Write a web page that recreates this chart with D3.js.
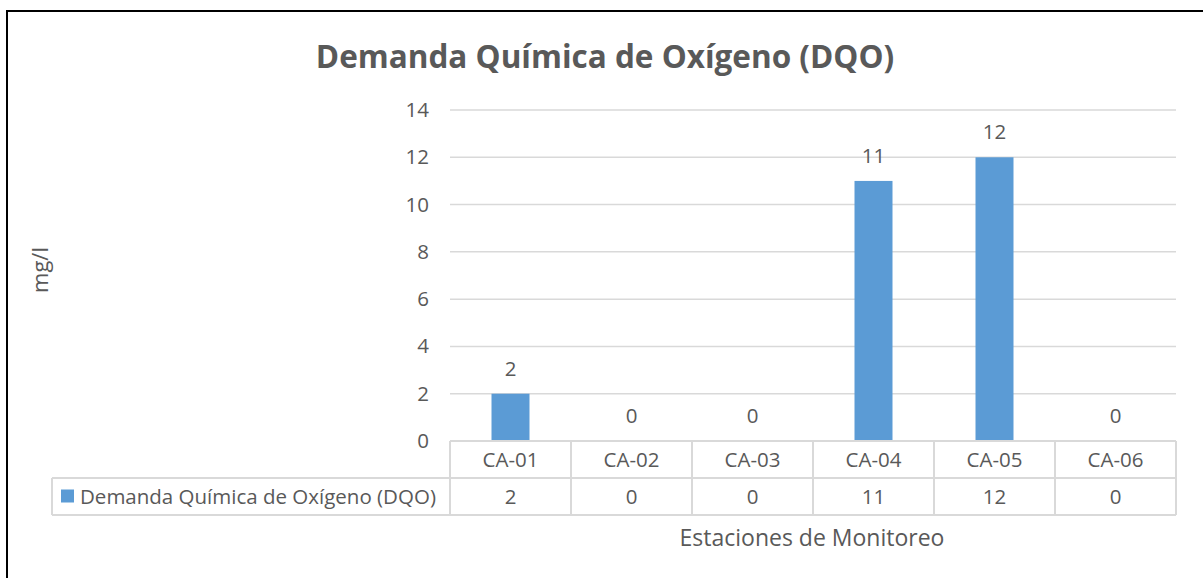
<!DOCTYPE html>
<html>
<head>
<meta charset="utf-8">
<script src="https://cdn.jsdelivr.net/npm/d3@7"></script>
<style>
  body { margin: 0; background: #fff; }
  text { font-family: "Open Sans", Lato, sans-serif; fill: #595959; }
</style>
</head>
<body>
<div id="myChart"></div>
<script>
let width = 1203;
let height = 578;

// data
const estaciones = ["CA-01", "CA-02", "CA-03", "CA-04", "CA-05", "CA-06"];
const dqo = [2, 0, 0, 11, 12, 0];
const yTicks = [0, 2, 4, 6, 8, 10, 12, 14];
const serieNombre = "Demanda Química de Oxígeno (DQO)";

let svg = d3.select("#myChart").append("svg")
  .attr("width", width)
  .attr("height", height);

// outer frame (runs off the right/bottom edge like the screenshot)
svg.append("rect")
  .attr("x", 7).attr("y", 11)
  .attr("width", 1220).attr("height", 600)
  .attr("fill", "none").attr("stroke", "#000").attr("stroke-width", 2);

let plotLeft = 450, plotRight = 1176, plotTop = 110, base = 441;
let rowH = 37;

var x = d3.scaleBand().domain(estaciones).range([plotLeft, plotRight]);
var y = d3.scaleLinear().domain([0, 14]).range([base, plotTop]);
let barW = x.step() * 0.314;

// title
svg.append("text")
  .attr("x", 605).attr("y", 68)
  .attr("text-anchor", "middle")
  .style("font-size", "31.5px").style("font-weight", "bold")
  .text(serieNombre);

// gridlines
svg.append("g")
  .selectAll("line")
  .data(yTicks.filter(d => d > 0))
  .enter().append("line")
  .attr("x1", plotLeft).attr("x2", plotRight)
  .attr("y1", d => y(d)).attr("y2", d => y(d))
  .attr("stroke", "#d9d9d9").attr("stroke-width", 1.5);

// y axis labels
let yAxis = svg.append("g")
  .attr("transform", `translate(${plotLeft - 21},0)`)
  .call(d3.axisLeft(y).tickValues(yTicks).tickSize(0).tickPadding(0));
yAxis.select(".domain").remove();
yAxis.selectAll("text")
  .attr("fill", "#595959")
  .style("font-size", "20.5px")
  .style("font-family", "'Open Sans', Lato, sans-serif");

// y title
svg.append("text")
  .attr("transform", "translate(48,270) rotate(-90)")
  .attr("text-anchor", "middle")
  .style("font-size", "22px")
  .text("mg/l");

// bars
svg.append("g")
  .selectAll("rect")
  .data(dqo)
  .enter().append("rect")
  .attr("x", (d, i) => x(estaciones[i]) + x.bandwidth() / 2 - barW / 2)
  .attr("width", barW)
  .attr("y", d => y(d))
  .attr("height", d => base - y(d))
  .attr("fill", "#5b9bd5");

// data labels
svg.append("g")
  .selectAll("text")
  .data(dqo)
  .enter().append("text")
  .attr("x", (d, i) => x(estaciones[i]) + x.bandwidth() / 2)
  .attr("y", d => y(d) - 18)
  .attr("text-anchor", "middle")
  .style("font-size", "20.5px")
  .text(d => d);

// data table
let grid = svg.append("g").attr("stroke", "#d9d9d9").attr("stroke-width", 2);
grid.append("line").attr("x1", plotLeft).attr("x2", plotRight).attr("y1", base).attr("y2", base);
grid.append("line").attr("x1", 52).attr("x2", plotRight).attr("y1", base + rowH).attr("y2", base + rowH);
grid.append("line").attr("x1", 52).attr("x2", plotRight).attr("y1", base + 2 * rowH).attr("y2", base + 2 * rowH);
grid.append("line").attr("x1", 52).attr("x2", 52).attr("y1", base + rowH).attr("y2", base + 2 * rowH);
grid.selectAll(".col")
  .data(estaciones.concat(["end"]))
  .enter().append("line")
  .attr("x1", (d, i) => plotLeft + i * x.step())
  .attr("x2", (d, i) => plotLeft + i * x.step())
  .attr("y1", base).attr("y2", base + 2 * rowH);

svg.append("g")
  .selectAll("text")
  .data(estaciones)
  .enter().append("text")
  .attr("x", d => x(d) + x.bandwidth() / 2)
  .attr("y", base + rowH / 2 + 7)
  .attr("text-anchor", "middle")
  .style("font-size", "20.5px")
  .text(d => d);

svg.append("g")
  .selectAll("text")
  .data(dqo)
  .enter().append("text")
  .attr("x", (d, i) => x(estaciones[i]) + x.bandwidth() / 2)
  .attr("y", base + rowH * 1.5 + 7)
  .attr("text-anchor", "middle")
  .style("font-size", "20.5px")
  .text(d => d);

// legend key in table
svg.append("rect")
  .attr("x", 61).attr("y", base + rowH * 1.5 - 7)
  .attr("width", 13).attr("height", 13)
  .attr("fill", "#5b9bd5");
svg.append("text")
  .attr("x", 80).attr("y", base + rowH * 1.5 + 7)
  .style("font-size", "20.5px")
  .text(serieNombre);

// x title
svg.append("text")
  .attr("x", 812).attr("y", 546)
  .attr("text-anchor", "middle")
  .style("font-size", "23px")
  .text("Estaciones de Monitoreo");
</script>
</body>
</html>
